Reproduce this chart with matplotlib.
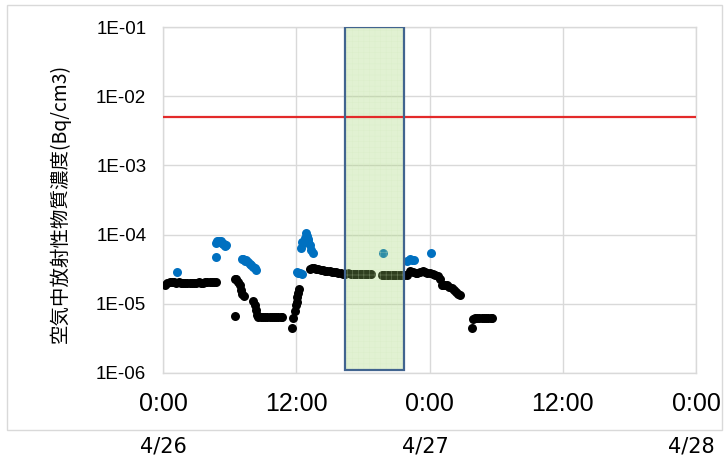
import matplotlib
matplotlib.use("Agg")
import matplotlib.pyplot as plt
from matplotlib.patches import Rectangle
from matplotlib.transforms import blended_transform_factory

# ---------------- data (hours since 4/26 0:00, concentration Bq/cm3) ----------------
black_hours = [0.2, 0.4, 0.6, 0.8, 1.0, 1.2, 1.4, 1.6, 1.8, 2.0, 2.2, 2.4, 2.6, 2.8, 3.0,
               3.2, 3.4, 3.6, 3.8, 4.0, 4.2, 4.4, 4.6, 4.8,
               6.45, 6.6, 6.75, 6.9, 7.05, 7.15, 7.25, 6.5,
               8.1, 8.25, 8.35, 8.45, 8.6, 8.8, 9.0, 9.2, 9.4, 9.6, 9.8, 10.0, 10.2, 10.4, 10.6, 10.75,
               11.65, 11.7, 11.85, 11.95, 12.05, 12.1, 12.2, 12.25,
               13.2, 13.4, 13.6, 13.8, 14.0, 14.2, 14.4, 14.6, 14.8, 15.0, 15.2, 15.4, 15.6, 15.8,
               16.0, 16.2, 16.4,
               16.7, 16.9, 17.1, 17.3, 17.5, 17.7, 17.9, 18.1, 18.3, 18.5, 18.7,
               19.7, 19.9, 20.1, 20.3, 20.5, 20.7, 20.9, 21.1, 21.3, 21.5, 21.7,
               22.0, 22.25, 22.5, 22.75, 22.9, 23.1, 23.4, 23.6, 23.8, 24.05, 24.3, 24.5, 24.75,
               24.95, 25.1, 25.25, 25.4, 25.6, 25.8, 26.0, 26.2, 26.4, 26.6, 26.75,
               27.8, 27.95, 28.1, 28.3, 28.5, 28.7, 28.9, 29.1, 29.3, 29.5, 29.6]
black_values = [1.9e-5, 2.0e-5, 2.1e-5, 2.1e-5, 2.1e-5, 2.0e-5, 2.1e-5, 2.0e-5, 2.0e-5, 2.0e-5,
                2.0e-5, 2.0e-5, 2.0e-5, 2.0e-5, 2.0e-5, 2.1e-5, 2.0e-5, 2.0e-5, 2.1e-5, 2.1e-5,
                2.1e-5, 2.1e-5, 2.1e-5, 2.1e-5,
                2.3e-5, 2.3e-5, 2.1e-5, 1.9e-5, 1.6e-5, 1.4e-5, 1.3e-5, 6.6e-6,
                1.1e-5, 9.5e-6, 8.2e-6, 6.8e-6, 6.4e-6, 6.4e-6, 6.4e-6, 6.4e-6, 6.4e-6, 6.4e-6,
                6.4e-6, 6.4e-6, 6.4e-6, 6.4e-6, 6.4e-6, 6.4e-6,
                4.5e-6, 6.2e-6, 8.0e-6, 9.5e-6, 1.05e-5, 1.25e-5, 1.45e-5, 1.65e-5,
                3.2e-5, 3.3e-5, 3.3e-5, 3.2e-5, 3.2e-5, 3.1e-5, 3.1e-5, 3.0e-5, 3.0e-5, 3.0e-5,
                2.9e-5, 2.9e-5, 2.9e-5, 2.8e-5, 2.8e-5, 2.7e-5, 2.7e-5,
                2.8e-5, 2.7e-5, 2.7e-5, 2.7e-5, 2.7e-5, 2.7e-5, 2.7e-5, 2.7e-5, 2.7e-5, 2.7e-5, 2.7e-5,
                2.65e-5, 2.65e-5, 2.65e-5, 2.65e-5, 2.65e-5, 2.65e-5, 2.65e-5, 2.65e-5, 2.65e-5,
                2.65e-5, 2.65e-5,
                2.6e-5, 3.0e-5, 2.9e-5, 2.8e-5, 2.8e-5, 2.9e-5, 3.0e-5, 2.9e-5, 2.8e-5, 2.8e-5,
                2.7e-5, 2.6e-5, 2.5e-5,
                2.3e-5, 1.9e-5, 1.9e-5, 1.9e-5, 1.85e-5, 1.75e-5, 1.7e-5, 1.6e-5, 1.5e-5, 1.4e-5, 1.35e-5,
                4.5e-6, 6.0e-6, 6.3e-6, 6.3e-6, 6.3e-6, 6.3e-6, 6.3e-6, 6.3e-6, 6.3e-6, 6.3e-6, 6.3e-6]

blue_hours = [1.23, 4.74, 4.8, 4.9, 5.0, 5.1, 5.2, 5.3, 5.4, 5.5, 5.6, 5.7,
              7.1, 7.2, 7.35, 7.5, 7.65, 7.8, 7.95, 8.1, 8.25, 8.4,
              12.05, 12.2, 12.35, 12.5,
              12.4, 12.55, 12.65, 12.75, 12.9, 13.0, 13.05, 13.1, 13.2, 13.35, 13.5,
              19.8,
              22.0, 22.2, 22.4, 22.6,
              24.15]
blue_values = [2.9e-5, 4.8e-5, 7.5e-5, 8.2e-5, 8.0e-5, 7.8e-5, 8.1e-5, 7.6e-5, 7.2e-5, 7.4e-5,
               6.8e-5, 7.0e-5,
               4.5e-5, 4.4e-5, 4.2e-5, 4.3e-5, 4.0e-5, 3.8e-5, 3.6e-5, 3.4e-5, 3.3e-5, 3.1e-5,
               2.9e-5, 2.8e-5, 2.8e-5, 2.7e-5,
               6.5e-5, 7.8e-5, 7.5e-5, 9.0e-5, 1.05e-4, 9.5e-5, 8.5e-5, 8.0e-5, 7.0e-5, 6.0e-5, 5.5e-5,
               5.4e-5,
               4.2e-5, 4.4e-5, 4.3e-5, 4.3e-5,
               5.4e-5]

limit_value = 5e-3
span_start, span_end = 16.4, 21.7
span_low, span_high = 1.1e-6, 1e-1

x_ticks = [0, 12, 24, 36, 48]
x_tick_labels = ["0:00", "12:00", "0:00", "12:00", "0:00"]
date_labels = ["4/26", "4/27", "4/28"]
date_positions = [0, 23.6, 47.6]
y_ticks = [1e-6, 1e-5, 1e-4, 1e-3, 1e-2, 1e-1]
y_tick_labels = ["1E-06", "1E-05", "1E-04", "1E-03", "1E-02", "1E-01"]
y_label = "空気中放射性物質濃度(Bq/cm3)"

# ---------------- figure ----------------
plt.rcParams['hatch.linewidth'] = 0.3
fig = plt.figure(figsize=(7.28, 4.62), dpi=100)
ax = fig.add_axes([163/728, 1 - 373/462, 533/728, 346/462])

# outer chart border
fig.patches.append(Rectangle((7/728, 1 - 430/462), 715/728, 425/462, transform=fig.transFigure,
                             fill=False, edgecolor="#d9d9d9", linewidth=1.0))

ax.set_yscale("log")
ax.set_xlim(0, 48)
ax.set_ylim(1e-6, 1e-1)

ax.grid(True, which="major", color="#d9d9d9", linewidth=1.0)
ax.set_axisbelow(True)
for s in ax.spines.values():
    s.set_color("#d9d9d9")
    s.set_linewidth(1.0)
ax.tick_params(which="both", length=0)
ax.minorticks_off()

ax.scatter(black_hours, black_values, s=42, color="black", zorder=3, linewidths=0)
ax.scatter(blue_hours, blue_values, s=42, color="#0070c0", zorder=3, linewidths=0)

# shaded period
ax.add_patch(Rectangle((span_start, span_low), span_end - span_start, span_high - span_low,
                       facecolor="#9ed36a", alpha=0.3, edgecolor="none", zorder=4))
ax.add_patch(Rectangle((span_start, span_low), span_end - span_start, span_high - span_low,
                       facecolor="none", edgecolor="#d4ebc0", hatch="+++", linewidth=0,
                       alpha=0.5, zorder=4))
ax.add_patch(Rectangle((span_start, span_low), span_end - span_start, span_high - span_low,
                       fill=False, edgecolor="#41648f", linewidth=1.6, zorder=6))

ax.axhline(limit_value, color="#e32a2a", linewidth=1.6, zorder=5)

ax.set_xticks(x_ticks)
ax.set_xticklabels(x_tick_labels, family=["Liberation Sans", "DejaVu Sans"], fontsize=18)
ax.set_yticks(y_ticks)
ax.set_yticklabels(y_tick_labels, family=["Liberation Sans", "DejaVu Sans"], fontsize=13.5)
ax.tick_params(axis="x", pad=14)
ax.tick_params(axis="y", pad=12)

ax.set_ylabel(y_label, family=["Noto Sans CJK JP", "DejaVu Sans"], fontsize=14)
ax.yaxis.set_label_coords(-0.172, 0.49)

trans = blended_transform_factory(ax.transData, fig.transFigure)
for pos, lab in zip(date_positions, date_labels):
    ax.text(pos, 1 - 447/462, lab, transform=trans, ha="center", va="center",
            fontsize=15, family=["DejaVu Sans"], clip_on=False)

fig.savefig("out.png", dpi=100)
